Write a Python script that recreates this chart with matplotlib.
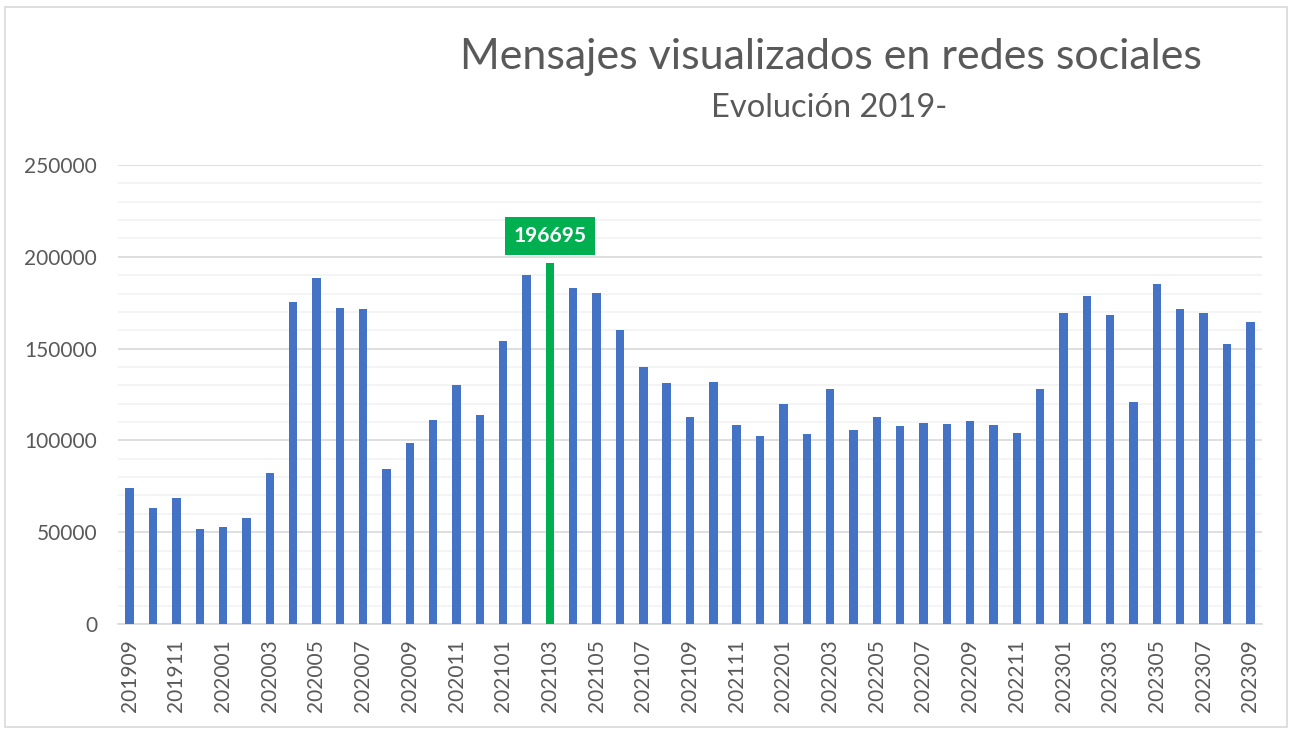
import numpy as np
import matplotlib.pyplot as plt
from matplotlib.patches import Rectangle

# periodos mensuales 201909 - 202309
periodos = ['201909', '201910', '201911', '201912',
            '202001', '202002', '202003', '202004', '202005', '202006',
            '202007', '202008', '202009', '202010', '202011', '202012',
            '202101', '202102', '202103', '202104', '202105', '202106',
            '202107', '202108', '202109', '202110', '202111', '202112',
            '202201', '202202', '202203', '202204', '202205', '202206',
            '202207', '202208', '202209', '202210', '202211', '202212',
            '202301', '202302', '202303', '202304', '202305', '202306',
            '202307', '202308', '202309']
mensajes = [74300, 63300, 68500, 52000, 52900, 57500, 82500, 175200, 188600, 171900,
            171700, 84300, 98500, 111100, 130000, 113700, 154300, 190200, 196695, 182800,
            180100, 160100, 139800, 131500, 112800, 131700, 108300, 102300, 119700, 103400,
            127800, 105700, 112600, 107700, 109400, 109100, 110600, 108300, 103900, 127800,
            169400, 178600, 168300, 121100, 185100, 171400, 169200, 152700, 164600]
destacado = '202103'

azul = '#4472C4'
verde = '#00B050'
gris = '#595959'

plt.rcParams['font.family'] = ['Lato', 'DejaVu Sans']

fig = plt.figure(figsize=(12.92, 7.29), dpi=100)
# marco del grafico
fig.patches.append(Rectangle((5 / 1292, 2 / 729), 1282 / 1292, 720 / 729,
                             transform=fig.transFigure, fill=False,
                             edgecolor='#d9d9d9', linewidth=1.2))

ax = fig.add_axes([118 / 1292, 105 / 729, 1144 / 1292, 459 / 729])
x = np.arange(len(periodos))
colores = [verde if p == destacado else azul for p in periodos]
ax.bar(x, mensajes, width=0.36, color=colores, zorder=3)

ax.set_xlim(-0.5, len(periodos) - 0.5)
ax.set_ylim(0, 250000)
ax.set_yticks(np.arange(0, 250001, 50000))
ax.set_yticks(np.arange(0, 250001, 10000), minor=True)
ax.grid(axis='y', which='minor', color='#f2f2f2', linewidth=1.2, zorder=0)
ax.grid(axis='y', which='major', color='#d9d9d9', linewidth=1.2, zorder=1)
ax.set_xticks(x[::2])
ax.set_xticklabels(periodos[::2], rotation=90)
ax.tick_params(axis='both', which='both', length=0, labelsize=15, colors=gris)
ax.tick_params(axis='x', pad=11)
ax.tick_params(axis='y', pad=15)
for s in ['top', 'right', 'left']:
    ax.spines[s].set_visible(False)
ax.spines['bottom'].set_color('#d9d9d9')
ax.spines['bottom'].set_linewidth(1.2)

# etiqueta del maximo
i = periodos.index(destacado)
ax.annotate(str(mensajes[i]), (x[i], mensajes[i]), xytext=(0, 19.5),
            textcoords='offset points', ha='center', va='center',
            fontsize=15, fontweight='bold', color='white',
            bbox=dict(boxstyle='square,pad=0.42', facecolor=verde, edgecolor='none'))

fig.text(831 / 1292, 1 - 57 / 729, 'Mensajes visualizados en redes sociales',
         ha='center', va='center', fontsize=31, color=gris)
fig.text(829 / 1292, 1 - 108 / 729, 'Evolución 2019-',
         ha='center', va='center', fontsize=23.5, color=gris)

fig.savefig('out.png', dpi=100)
